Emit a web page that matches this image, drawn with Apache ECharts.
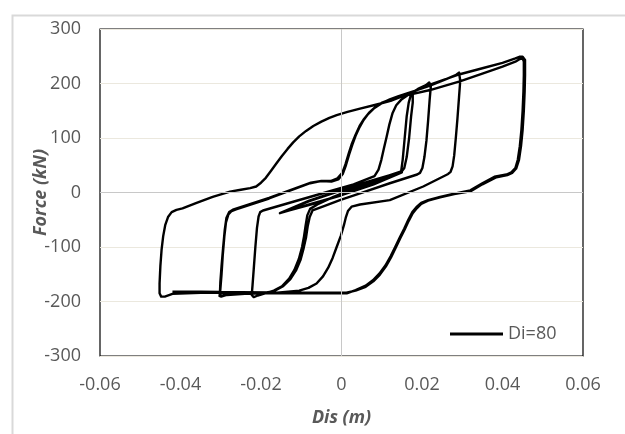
<!DOCTYPE html>
<html>
<head>
<meta charset="utf-8">
<script src="https://cdn.jsdelivr.net/npm/echarts@6/dist/echarts.min.js"></script>
<style>html,body{margin:0;padding:0;background:#fff;}#c{width:625px;height:434px;}</style>
</head>
<body>
<div id="c"></div>
<script>
// ---- data (Dis in m, Force in kN) ----
var seriesName = 'Di=80';
var xTicks = [-0.06, -0.04, -0.02, 0, 0.02, 0.04, 0.06];
var yTicks = [-300, -200, -100, 0, 100, 200, 300];

// small elastic band cycles
var cycle0 = [[0,0],[0.007,16],[0.0148,38],[0.007,21],[0,5],[-0.008,-15],[-0.0153,-38],[-0.008,-22],[0,-5],[0.008,15],[0.0150,37],[0.007,21],[0,4],[-0.008,-16],[-0.0150,-37],[-0.007,-21],[0,-4],[0.008,16],[0.0148,38]];
// cycle to +0.0178 / -0.022
var cycle1 = [[0.0152,60],[0.0157,100],[0.0162,140],[0.0167,165],[0.0172,178],[0.0177,184],[0.0179,182],[0.0177,165],[0.0173,140],[0.0168,100],[0.0162,65],[0.0156,45],[0.0150,39],[0.010,27],[0.004,10],[-0.002,-8],[-0.006,-22],[-0.0078,-30],[-0.0085,-42],[-0.0089,-60],[-0.0093,-80],[-0.0098,-100],[-0.0106,-122],[-0.0117,-142],[-0.0130,-158],[-0.0148,-172],[-0.0168,-180],[-0.019,-185],[-0.0208,-189],[-0.0218,-192],[-0.0223,-188],[-0.0221,-170],[-0.0218,-140],[-0.0214,-100],[-0.021,-65],[-0.0206,-44],[-0.0202,-36],[-0.0195,-33],[-0.012,-17],[-0.004,0],[0.003,15],[0.0082,30],[0.0092,42],[0.0099,60],[0.0105,80],[0.0112,102],[0.0119,125],[0.0127,146],[0.0136,160],[0.0148,170],[0.0165,179],[0.019,190],[0.021,197],[0.0218,202],[0.0222,203]];
// cycle to +0.022 / -0.030
var cycle2 = [[0.0222,195],[0.0219,170],[0.0215,130],[0.0211,95],[0.0206,65],[0.0201,45],[0.0195,36],[0.0188,33],[0.012,17],[0.0046,-1.5],[-0.0004,-14],[-0.004,-24],[-0.0072,-33],[-0.0079,-45],[-0.0084,-62],[-0.0088,-82],[-0.0094,-102],[-0.0102,-124],[-0.0113,-143],[-0.0127,-159],[-0.0145,-172],[-0.0168,-181],[-0.020,-185],[-0.024,-186],[-0.0285,-188],[-0.0299,-191],[-0.0302,-184],[-0.0301,-165],[-0.0298,-135],[-0.0294,-100],[-0.029,-68],[-0.0286,-47],[-0.0279,-36],[-0.0268,-31],[-0.018,-10],[-0.0076,18],[-0.005,21],[-0.0025,20],[-0.0008,24],[0.0003,34],[0.0011,50],[0.0019,70],[0.0027,88],[0.0035,104],[0.0045,120],[0.0055,133],[0.0066,144],[0.0080,154],[0.0098,163],[0.0120,171],[0.0142,177],[0.018,186],[0.022,196],[0.026,208],[0.0285,216],[0.0292,220],[0.0296,219]];
// cycle to +0.0296 / -0.030
var cycle3 = [[0.0295,205],[0.0292,175],[0.0288,135],[0.0284,100],[0.028,68],[0.0276,48],[0.0271,38],[0.0265,34],[0.0203,11],[0.012,-14],[0.0046,-22],[0.0025,-26],[0.0016,-34],[0.0011,-45],[0.0006,-60],[-0.0002,-80],[-0.0012,-100],[-0.0022,-120],[-0.0033,-138],[-0.0046,-154],[-0.0062,-167],[-0.0082,-175],[-0.0105,-180],[-0.016,-184],[-0.024,-186],[-0.029,-188],[-0.0303,-190],[-0.0301,-178],[-0.0298,-150],[-0.0295,-115],[-0.0291,-80],[-0.0287,-55],[-0.0281,-40],[-0.0273,-34],[-0.0262,-31],[-0.018,-11],[-0.0078,17],[-0.0052,21],[-0.0027,21],[-0.001,26],[0.0002,36],[0.001,52],[0.0018,72],[0.0026,90],[0.0035,106],[0.0045,122],[0.0056,135],[0.0068,146],[0.0083,156],[0.0101,165],[0.0125,172],[0.0150,177],[0.0178,181],[0.022,188],[0.0294,204],[0.035,218],[0.040,231],[0.0432,240],[0.0443,245],[0.0450,246]];
// cycle to +0.045 / -0.045
var cycle4 = [[0.0453,240],[0.0453,215],[0.0452,185],[0.0450,150],[0.0447,115],[0.0443,85],[0.0438,60],[0.0432,45],[0.0422,37],[0.041,33],[0.038,29],[0.035,17],[0.032,4],[0.028,-2],[0.0245,-8],[0.0215,-14],[0.0198,-19],[0.0186,-27],[0.0176,-36],[0.0166,-50],[0.0156,-66],[0.0145,-82],[0.0134,-99],[0.0122,-117],[0.0109,-134],[0.0094,-149],[0.0078,-161],[0.006,-171],[0.0035,-179],[0.0013,-185],[-0.005,-185],[-0.015,-185],[-0.025,-184],[-0.035,-184],[-0.042,-186],[-0.0439,-191],[-0.0448,-191],[-0.0452,-185],[-0.0452,-167],[-0.0450,-135],[-0.0447,-105],[-0.0443,-80],[-0.0438,-60],[-0.0431,-45],[-0.0422,-36],[-0.041,-32],[-0.0395,-29],[-0.036,-19],[-0.032,-8],[-0.0277,1.5],[-0.025,5],[-0.0227,8],[-0.0212,11],[-0.0200,18],[-0.0188,27],[-0.0175,40],[-0.0161,54],[-0.0148,67],[-0.0134,80],[-0.012,92],[-0.0105,103],[-0.0088,113],[-0.007,122],[-0.005,130],[-0.003,137],[-0.0012,142],[0.0015,148],[0.0046,154],[0.009,162],[0.0122,168],[0.016,179],[0.022,198],[0.0294,217],[0.035,228],[0.040,238],[0.0432,246],[0.0442,249],[0.0450,249]];
// final unloading to the negative plateau
var cycle5 = [[0.0456,243],[0.0456,215],[0.0455,185],[0.0453,150],[0.0450,115],[0.0446,85],[0.0441,60],[0.0434,44],[0.0424,36],[0.0412,32],[0.0385,28],[0.035,15],[0.032,2],[0.028,-3],[0.0245,-9],[0.0215,-15],[0.0198,-21],[0.0187,-29],[0.0177,-38],[0.0167,-52],[0.0157,-68],[0.0146,-84],[0.0135,-101],[0.0123,-119],[0.011,-136],[0.0095,-151],[0.0079,-163],[0.006,-173],[0.0035,-180],[0.0012,-184],[-0.01,-184],[-0.025,-183],[-0.035,-182],[-0.042,-182]];

var curve = [].concat(cycle0, cycle1, cycle2, cycle3, cycle4, cycle5);

var gray = '#595959';
var font = 'Open Sans';
var chart = echarts.init(document.getElementById('c'));
chart.setOption({
  animation: false,
  backgroundColor: '#fff',
  graphic: [{
    type: 'rect', left: 10, top: 13, shape: {width: 700, height: 500},
    style: {fill: 'none', stroke: '#d9d9d9', lineWidth: 2}, silent: true
  }],
  grid: {left: 100, right: 42, top: 29, bottom: 78, show: true, borderColor: '#000', borderWidth: 1.2, backgroundColor: 'transparent'},
  legend: {
    data: [{name: seriesName, icon: 'rect'}], left: 450, top: 325, padding: 0, itemWidth: 53, itemHeight: 3, itemGap: 5,
    textStyle: {fontSize: 18, color: gray, fontFamily: font}
  },
  xAxis: {
    type: 'value', min: xTicks[0], max: xTicks[xTicks.length - 1], interval: 0.02,
    name: 'Dis (m)', nameLocation: 'middle', nameGap: 53, nameMoveOverlap: false,
    nameTextStyle: {fontSize: 18, fontWeight: 'bold', fontStyle: 'italic', color: gray, fontFamily: font},
    axisLine: {show: false}, axisTick: {show: false}, splitLine: {show: false},
    axisLabel: {fontSize: 18, color: gray, fontFamily: font, margin: 20,
      formatter: function (v) { return String(Math.round(v * 100) / 100); }}
  },
  yAxis: {
    type: 'value', min: yTicks[0], max: yTicks[yTicks.length - 1], interval: 100,
    name: 'Force (kN)', nameLocation: 'middle', nameGap: 50, nameMoveOverlap: false,
    nameTextStyle: {fontSize: 18, fontWeight: 'bold', fontStyle: 'italic', color: gray, fontFamily: font},
    axisLine: {show: false}, axisTick: {show: false},
    splitLine: {show: true, lineStyle: {color: '#ebe8de', width: 1}},
    axisLabel: {fontSize: 18, color: gray, fontFamily: font, margin: 19}
  },
  series: [{
    name: seriesName, type: 'line', data: curve, showSymbol: false, symbol: 'none',
    smooth: false, lineStyle: {color: '#000', width: 2.4, join: 'round'}, itemStyle: {color: '#000'},
    markLine: {
      silent: true, symbol: 'none', label: {show: false},
      lineStyle: {color: '#c8c8c8', width: 1, type: 'solid'},
      data: [{xAxis: 0}, {yAxis: 0}]
    },
    z: 3
  }]
});
</script>
</body>
</html>
